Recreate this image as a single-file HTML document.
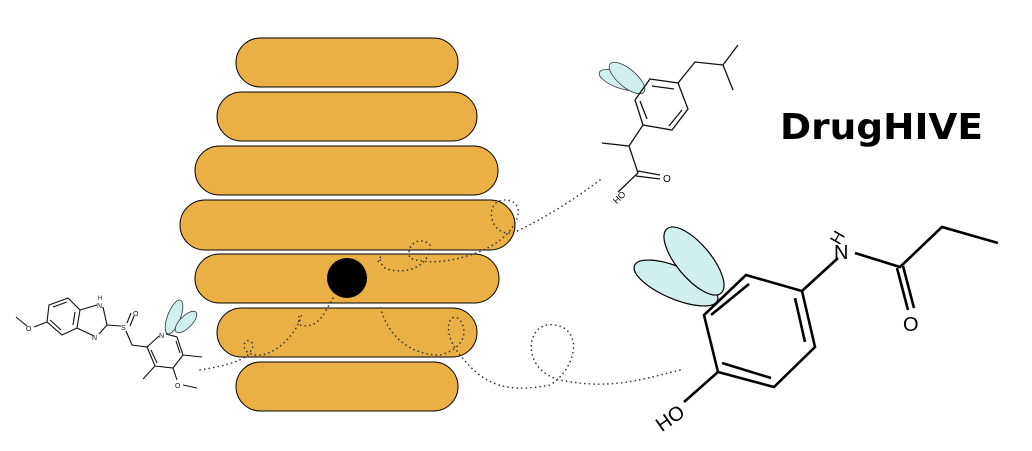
<!DOCTYPE html>
<html><head><style>body{margin:0;background:#fff}svg{display:block}</style></head><body>
<svg width="1032" height="451" viewBox="0 0 1032 451" xmlns="http://www.w3.org/2000/svg" font-family="Liberation Sans, sans-serif">
<g fill="#EAB045" stroke="#000" stroke-width="1">
<rect x="236" y="38" width="222" height="49" rx="24.5"/>
<rect x="217" y="92" width="260" height="49" rx="24.5"/>
<rect x="195" y="146" width="303" height="49" rx="24.5"/>
<rect x="180" y="200" width="335" height="50" rx="25"/>
<rect x="195" y="254" width="304" height="49" rx="24.5"/>
<rect x="217" y="308" width="260" height="49" rx="24.5"/>
<rect x="236" y="362" width="222" height="49" rx="24.5"/>
</g>
<circle cx="347" cy="278" r="20" fill="#000"/>
<g fill="none" stroke="#333" stroke-width="1.6" stroke-dasharray="0.1 4.5" stroke-linecap="round">
<path d="M600 180 C560 210 530 225 515 232 C490 240 482 200 505 200 C530 200 520 240 470 255 C440 265 420 262 410 258 C405 245 420 235 430 245 C430 270 400 275 385 268 C375 260 385 250 378 262"/>
<path d="M680 370 C640 380 610 390 560 380 C520 370 525 320 555 325 C585 330 575 370 550 385 C500 395 480 380 460 355 C440 330 450 310 460 320 C470 335 460 350 440 355 C405 355 385 330 380 305"/>
<path d="M200 370 C230 365 245 360 250 352 C260 340 240 335 245 350 C260 365 290 345 300 320 C305 310 295 315 300 325 C320 330 325 310 335 295"/>
</g>
<!-- ibuprofen -->
<g fill="#cff0ee" stroke="#333" stroke-width="0.8">
<ellipse cx="620" cy="80" rx="22" ry="8" transform="rotate(20 620 80)"/>
<ellipse cx="627" cy="78" rx="22" ry="9" transform="rotate(40 627 78)"/>
</g>
<g fill="none" stroke="#111" stroke-width="1.3">
<path d="M650 79 L678 83 L688 109 L672 130 L643 125 L635 100 Z"/>
<path d="M652 86 L674 89 M682 110 L669 126 M640 101 L647 119"/>
<path d="M678 83 L695 62 L723 65 L738 45 M723 65 L733 90"/>
<path d="M643 125 L629 146 L602 143 M629 146 L638 173 L618 192 M638 171 L660 175 M636 176 L660 179"/>
</g>
<text x="663" y="182" font-size="10">O</text>
<text x="612" y="203" font-size="9" transform="rotate(-45 616 198)">HO</text>
<!-- paracetamol-like -->
<g fill="#cff0ee" stroke="#000" stroke-width="1.2">
<ellipse cx="676" cy="283" rx="45" ry="16" transform="rotate(23 676 283)"/>
<ellipse cx="694" cy="261" rx="42" ry="17" transform="rotate(50 694 261)"/>
</g>
<g fill="none" stroke="#000" stroke-width="2.6">
<path d="M746 275 L802 291 L815 347 L774 387 L718 372 L704 315 Z"/>
<path d="M749 284 L711 315 M795 298 L805 342 M771 378 L722 363"/>
<path d="M802 291 L838 258 M855 253 L900 267 L942 227 L998 243"/>
<path d="M897 268 L908 310 M903 266 L914 308"/>
<path d="M718 372 L684 402"/>
</g>
<text x="834" y="259" font-size="20">N</text>
<text x="832" y="243" font-size="17" transform="rotate(-60 838 238)">H</text>
<text x="903" y="331" font-size="20">O</text>
<text x="655" y="425" font-size="20" transform="rotate(-35 670 418)">HO</text>
<!-- omeprazole -->
<g fill="#cff0ee" stroke="#333" stroke-width="0.8">
<ellipse cx="174" cy="317" rx="18" ry="6.5" transform="rotate(-69 174 317)"/>
<ellipse cx="186" cy="322" rx="14" ry="6" transform="rotate(-45 186 322)"/>
</g>
<g fill="none" stroke="#111" stroke-width="1.1">
<path d="M49 305 L68 298 L80 310 L77 328 L62 335 L47 322 Z"/>
<path d="M53 307 L67 302 M75 312 L73 325 M50 320 L61 330"/>
<path d="M80 310 L97 305 M103 307 L107 325 L99 334 M94 336 L77 328"/>
<path d="M47 322 L34 327 M27 326 L16 317"/>
<path d="M107 325 L121 326 M130 326 L134 316 M127 323 L131 313"/>
<path d="M126 331 L132 345 L147 347 L159 336 M166 334 L177 337 L183 355 L173 368 L155 366 L147 347"/>
<path d="M151 350 L157 363 M176 341 L180 353"/>
<path d="M183 355 L202 357 M155 366 L143 379 M173 368 L177 380 M183 385 L197 388"/>
</g>
<g font-size="7" fill="#111">
<text x="97" y="308">N</text><text x="98" y="300" font-size="6">H</text><text x="92" y="340">N</text><text x="121" y="330">S</text><text x="133" y="316">O</text><text x="159" y="338">N</text><text x="175" y="388">O</text><text x="26" y="331">O</text>
</g>
<text x="780" y="139" font-size="36" font-weight="bold" font-family="DejaVu Sans, sans-serif" textLength="203" lengthAdjust="spacingAndGlyphs">DrugHIVE</text>
</svg>
</body></html>
